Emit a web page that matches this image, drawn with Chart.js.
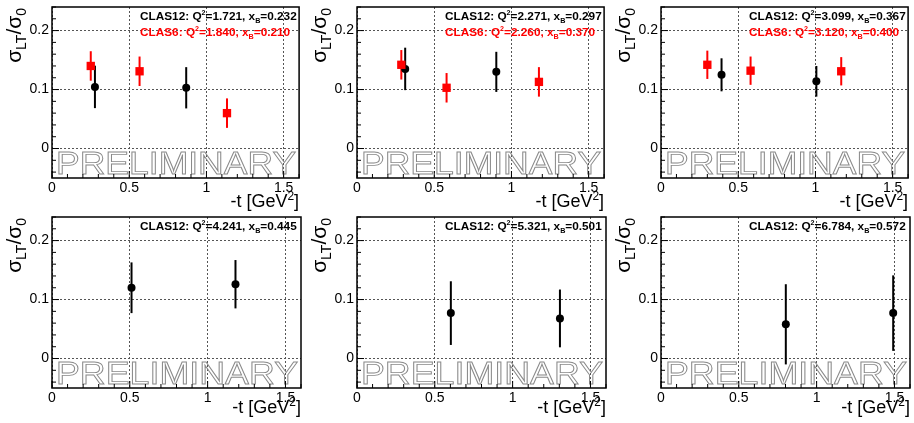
<!DOCTYPE html>
<html>
<head>
<meta charset="utf-8">
<script src="https://cdn.jsdelivr.net/npm/chart.js@4/dist/chart.umd.min.js"></script>
<style>
  body { margin: 0; background: #fff; }
  #wrap { position: relative; width: 914px; height: 423px; overflow: hidden; }
  canvas { position: absolute; }
</style>
</head>
<body>
<div id="wrap"></div>
<script>
// values, one entry per panel
const clas12Q2 = ['1.721', '2.271', '3.099', '4.241', '5.321', '6.784']
const clas12xB = ['0.232', '0.297', '0.367', '0.445', '0.501', '0.572']
const clas12T = [[0.278, 0.869], [0.312, 0.902], [0.392, 1.006], [0.511, 1.179], [0.603, 1.304], [0.802, 1.492]]
const clas12Ratio = [[0.1045, 0.103], [0.135, 0.130], [0.125, 0.114], [0.120, 0.126], [0.077, 0.068], [0.058, 0.077]]
const clas12Err = [[0.036, 0.035], [0.036, 0.034], [0.028, 0.026], [0.043, 0.041], [0.054, 0.049], [0.068, 0.064]]

const clas6Q2 = ['1.840', '2.260', '3.120']
const clas6xB = ['0.210', '0.370', '0.400']
const clas6T = [[0.251, 0.567, 1.133], [0.287, 0.580, 1.178], [0.300, 0.580, 1.167]]
const clas6Ratio = [[0.140, 0.131, 0.060], [0.142, 0.103, 0.113], [0.142, 0.132, 0.131]]
const clas6Err = [[0.025, 0.025, 0.025], [0.025, 0.025, 0.025], [0.024, 0.024, 0.024]]

const xTicks = [0, 0.5, 1, 1.5]
const yTicks = [0, 0.1, 0.2]

const fam = '"Liberation Sans", Arial, Helvetica, sans-serif'
Chart.defaults.font.family = fam
Chart.defaults.color = '#000'

// draws text made of [string, 'n'|'sup'|'sub'] pieces starting at x
function richText(ctx, parts, x, y, size, bold, small, up, down) {
    let cx = x
    parts.forEach(p => {
        let sz = p[1] === 'n' ? size : small
        ctx.font = (bold ? 'bold ' : '') + sz + 'px ' + fam
        let dy = p[1] === 'sup' ? -up : (p[1] === 'sub' ? down : 0)
        ctx.fillText(p[0], cx, y + dy)
        cx += ctx.measureText(p[0]).width
    })
    return cx - x
}
function richWidth(ctx, parts, size, bold, small) {
    let w = 0
    parts.forEach(p => {
        ctx.font = (bold ? 'bold ' : '') + (p[1] === 'n' ? size : small) + 'px ' + fam
        w += ctx.measureText(p[0]).width
    })
    return w
}

const decor = {
    id: 'decor',
    beforeDatasetsDraw(chart) {
        const ctx = chart.ctx, a = chart.chartArea
        const xs = chart.scales.x, ys = chart.scales.y
        // hollow PRELIMINARY stamp
        ctx.save()
        ctx.font = '31px ' + fam
        let w = ctx.measureText('PRELIMINARY').width
        ctx.translate(a.left + 4, a.bottom - 4)
        ctx.scale((a.right - a.left - 7) / w, 1)
        ctx.strokeStyle = '#8a8a8a'
        ctx.lineWidth = 0.9
        ctx.strokeText('PRELIMINARY', 0, 0)
        ctx.restore()
        // error bars
        ctx.save()
        ctx.lineWidth = 2
        chart.data.datasets.forEach(ds => {
            ctx.strokeStyle = ds.borderColor
            ds.data.forEach(p => {
                let px = xs.getPixelForValue(p.x)
                ctx.beginPath()
                ctx.moveTo(px, ys.getPixelForValue(Math.max(p.y - p.err, ys.min)))
                ctx.lineTo(px, ys.getPixelForValue(p.y + p.err))
                ctx.stroke()
            })
        })
        ctx.restore()
    },
    afterDraw(chart) {
        const ctx = chart.ctx, a = chart.chartArea
        const xs = chart.scales.x, ys = chart.scales.y
        const o = chart.options.plugins.decor
        ctx.save()
        // frame
        ctx.strokeStyle = '#000'
        ctx.lineWidth = 1.5
        ctx.strokeRect(a.left, a.top, a.right - a.left, a.bottom - a.top)
        // ticks inside the frame
        ctx.lineWidth = 1
        ctx.beginPath()
        for (let i = 0; i <= 16; i++) {
            let px = xs.getPixelForValue(i * 0.1)
            let len = i % 5 === 0 ? 7 : 4
            ctx.moveTo(px, a.bottom)
            ctx.lineTo(px, a.bottom - len)
        }
        for (let i = -2; i <= 12; i++) {
            let py = ys.getPixelForValue(i * 0.02)
            let len = i % 5 === 0 ? 7 : 4
            ctx.moveTo(a.left, py)
            ctx.lineTo(a.left + len, py)
        }
        ctx.stroke()

        // axis titles
        ctx.fillStyle = '#000'
        ctx.textBaseline = 'alphabetic'
        let xt = [['-t [GeV', 'n'], ['2', 'sup'], [']', 'n']]
        let wx = richWidth(ctx, xt, 18, false, 12)
        richText(ctx, xt, a.right - wx, a.bottom + o.xTitleGap, 18, false, 12, 7, 0)

        let yt = [['σ', 'n'], ['LT', 'sub'], ['/σ', 'n'], ['0', 'sub']]
        let wy = richWidth(ctx, yt, 21, false, 14)
        ctx.save()
        ctx.translate(20.5, a.top + 1)
        ctx.rotate(-Math.PI / 2)
        richText(ctx, yt, -wy, 0, 21, false, 14, 0, 5)
        ctx.restore()

        // kinematics labels
        let tx = a.left + 88
        ctx.fillStyle = '#000'
        richText(ctx, [['CLAS12: Q', 'n'], ['2', 'sup'], ['=' + o.q12 + ', x', 'n'], ['B', 'sub'], ['=' + o.xb12, 'n']],
            tx, a.top + 13, 11.8, true, 7.2, 5, 3)
        if (o.q6) {
            ctx.fillStyle = '#ff0000'
            richText(ctx, [['CLAS6: Q', 'n'], ['2', 'sup'], ['=' + o.q6 + ', x', 'n'], ['B', 'sub'], ['=' + o.xb6, 'n']],
                tx, a.top + 29, 11.8, true, 7.2, 5, 3)
        }
        ctx.restore()
    }
}

const wrap = document.getElementById('wrap')
for (let i = 0; i < 6; i++) {
    let row = Math.floor(i / 3), col = i % 3
    let cv = document.createElement('canvas')
    cv.width = 305
    cv.height = 212
    cv.style.left = (col * 304.67).toFixed(0) + 'px'
    cv.style.top = (row * 210) + 'px'
    wrap.appendChild(cv)

    let datasets = []
    if (i < 3) {
        datasets.push({
            label: 'CLAS6',
            data: clas6T[i].map((t, j) => ({x: t, y: clas6Ratio[i][j], err: clas6Err[i][j]})),
            pointStyle: 'rect',
            pointRadius: 5.9,
            backgroundColor: '#ff0000',
            borderColor: '#ff0000',
            borderWidth: 0
        })
    }
    datasets.push({
        label: 'CLAS12',
        data: clas12T[i].map((t, j) => ({x: t, y: clas12Ratio[i][j], err: clas12Err[i][j]})),
        pointStyle: 'circle',
        pointRadius: 4,
        backgroundColor: '#000',
        borderColor: '#000',
        borderWidth: 0
    })

    new Chart(cv.getContext('2d'), {
        type: 'scatter',
        data: {datasets: datasets},
        options: {
            responsive: false,
            animation: false,
            devicePixelRatio: 1,
            layout: {padding: {top: 7, right: 2, left: 0, bottom: 0}},
            plugins: {
                legend: {display: false},
                tooltip: {enabled: false},
                decor: {
                    q12: clas12Q2[i], xb12: clas12xB[i],
                    q6: i < 3 ? clas6Q2[i] : null, xb6: i < 3 ? clas6xB[i] : null,
                    xTitleGap: row === 0 ? 28.7 : 25
                }
            },
            scales: {
                x: {
                    type: 'linear',
                    min: 0,
                    max: 1.6,
                    afterBuildTicks: s => { s.ticks = xTicks.map(v => ({value: v})) },
                    afterFit: s => { s.height = 34; s.paddingLeft = 0; s.paddingRight = 0 },
                    ticks: {font: {size: 14}, padding: 2, maxRotation: 0, callback: v => String(v)},
                    grid: {color: '#555', lineWidth: 1, drawTicks: false},
                    border: {display: false, dash: [2, 2]}
                },
                y: {
                    type: 'linear',
                    min: -0.05,
                    max: 0.24,
                    afterBuildTicks: s => { s.ticks = yTicks.map(v => ({value: v})) },
                    afterFit: s => { s.width = 52; s.paddingTop = 0; s.paddingBottom = 0 },
                    ticks: {font: {size: 14}, padding: 3, callback: v => String(v)},
                    grid: {color: '#555', lineWidth: 1, drawTicks: false},
                    border: {display: false, dash: [2, 2]}
                }
            }
        },
        plugins: [decor]
    })
}
</script>
</body>
</html>
